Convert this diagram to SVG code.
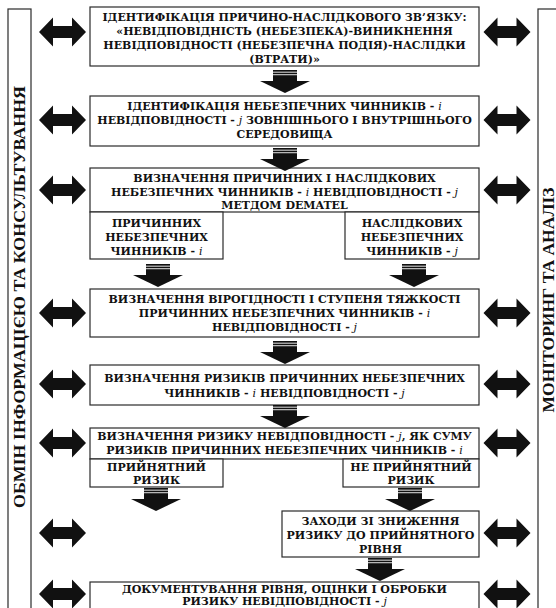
<svg xmlns="http://www.w3.org/2000/svg" width="556" height="608" viewBox="0 0 556 608">
<style>
.bx{fill:#fff;stroke:#2a2a2a;stroke-width:1.2}
.t{font-family:"DejaVu Serif","Liberation Serif",serif;font-weight:bold;font-size:11px;fill:#111;text-anchor:middle}
.side{font-family:"Liberation Serif","DejaVu Serif",serif;font-weight:bold;font-size:16px;fill:#111;text-anchor:middle}
.v{font-style:italic;font-weight:normal}
.ar{fill:#111}
</style>
<defs>
<path id="dbl" d="M-23.5,0 L-9.5,-14.5 L-9.5,-6 L9.5,-6 L9.5,-14.5 L23.5,0 L9.5,14.5 L9.5,6 L-9.5,6 L-9.5,14.5 Z"/>
<g id="down">
<rect x="-12" y="0" width="24" height="1.7"/>
<rect x="-12" y="2.6" width="24" height="1.7"/>
<rect x="-12" y="5.2" width="24" height="6.3"/>
<path d="M-25,11 L25,11 L0,23 Z"/>
</g>
</defs>
<rect width="556" height="608" fill="#fff"/>

<g id="side-left">
<rect class="bx" x="8" y="9" width="23" height="610"/>
<text class="side" transform="translate(25,297) rotate(-90)" textLength="422" lengthAdjust="spacingAndGlyphs">ОБМІН ІНФОРМАЦІЄЮ ТА КОНСУЛЬТУВАННЯ</text>
</g>
<g id="side-right">
<rect class="bx" x="538" y="9" width="30" height="610"/>
<text class="side" transform="translate(554,300) rotate(-90)" textLength="225" lengthAdjust="spacingAndGlyphs">МОНІТОРИНГ ТА АНАЛІЗ</text>
</g>

<g id="n1">
<rect class="bx" x="90" y="7" width="389" height="59"/>
<text class="t" x="284.5" y="21">ІДЕНТИФІКАЦІЯ ПРИЧИНО-НАСЛІДКОВОГО ЗВ’ЯЗКУ:</text>
<text class="t" x="284.5" y="35">«НЕВІДПОВІДНІСТЬ (НЕБЕЗПЕКА)-ВИНИКНЕННЯ</text>
<text class="t" x="284.5" y="49">НЕВІДПОВІДНОСТІ (НЕБЕЗПЕЧНА ПОДІЯ)-НАСЛІДКИ</text>
<text class="t" x="284.5" y="63">(ВТРАТИ)»</text>
</g>
<g id="n2">
<rect class="bx" x="90" y="96" width="389" height="50"/>
<text class="t" x="284.5" y="110">ІДЕНТИФІКАЦІЯ НЕБЕЗПЕЧНИХ ЧИННИКІВ - <tspan class="v">i</tspan></text>
<text class="t" x="284.5" y="124">НЕВІДПОВІДНОСТІ - <tspan class="v">j</tspan> ЗОВНІШНЬОГО І ВНУТРІШНЬОГО</text>
<text class="t" x="284.5" y="138">СЕРЕДОВИЩА</text>
</g>
<g id="n3">
<rect class="bx" x="90" y="168" width="389" height="44"/>
<text class="t" x="284.5" y="182">ВИЗНАЧЕННЯ ПРИЧИННИХ І НАСЛІДКОВИХ</text>
<text class="t" x="284.5" y="196">НЕБЕЗПЕЧНИХ ЧИННИКІВ - <tspan class="v">i</tspan> НЕВІДПОВІДНОСТІ - <tspan class="v">j</tspan></text>
<text class="t" x="284.5" y="209">МЕТДОМ DEMATEL</text>
</g>
<g id="n3a">
<rect class="bx" x="90" y="212" width="133" height="47"/>
<text class="t" x="156.5" y="227">ПРИЧИННИХ</text>
<text class="t" x="156.5" y="241">НЕБЕЗПЕЧНИХ</text>
<text class="t" x="156.5" y="255">ЧИННИКІВ - <tspan class="v">i</tspan></text>
</g>
<g id="n3b">
<rect class="bx" x="345" y="212" width="134" height="47"/>
<text class="t" x="412" y="227">НАСЛІДКОВИХ</text>
<text class="t" x="412" y="241">НЕБЕЗПЕЧНИХ</text>
<text class="t" x="412" y="255">ЧИННИКІВ - <tspan class="v">j</tspan></text>
</g>
<g id="n4">
<rect class="bx" x="90" y="289" width="389" height="48"/>
<text class="t" x="284.5" y="303">ВИЗНАЧЕННЯ ВІРОГІДНОСТІ І СТУПЕНЯ ТЯЖКОСТІ</text>
<text class="t" x="284.5" y="317">ПРИЧИННИХ НЕБЕЗПЕЧНИХ ЧИННИКІВ - <tspan class="v">i</tspan></text>
<text class="t" x="284.5" y="331">НЕВІДПОВІДНОСТІ - <tspan class="v">j</tspan></text>
</g>
<g id="n5">
<rect class="bx" x="90" y="365" width="389" height="40"/>
<text class="t" x="284.5" y="382">ВИЗНАЧЕННЯ РИЗИКІВ ПРИЧИННИХ НЕБЕЗПЕЧНИХ</text>
<text class="t" x="284.5" y="397">ЧИННИКІВ - <tspan class="v">i</tspan> НЕВІДПОВІДНОСТІ - <tspan class="v">j</tspan></text>
</g>
<g id="n6">
<rect class="bx" x="90" y="428" width="389" height="31"/>
<text class="t" x="284.5" y="440">ВИЗНАЧЕННЯ РИЗИКУ НЕВІДПОВІДНОСТІ - <tspan class="v">j</tspan>, ЯК СУМУ</text>
<text class="t" x="284.5" y="454">РИЗИКІВ ПРИЧИННИХ НЕБЕЗПЕЧНИХ ЧИННИКІВ - <tspan class="v">i</tspan></text>
</g>
<g id="n6a">
<rect class="bx" x="90" y="459" width="133" height="28"/>
<text class="t" x="156.5" y="471">ПРИЙНЯТНИЙ</text>
<text class="t" x="156.5" y="484">РИЗИК</text>
</g>
<g id="n6b">
<rect class="bx" x="343" y="459" width="136" height="28"/>
<text class="t" x="411" y="471">НЕ ПРИЙНЯТНИЙ</text>
<text class="t" x="411" y="484">РИЗИК</text>
</g>
<g id="n7">
<rect class="bx" x="282" y="511" width="197" height="46"/>
<text class="t" x="380.5" y="525">ЗАХОДИ ЗІ ЗНИЖЕННЯ</text>
<text class="t" x="380.5" y="539">РИЗИКУ ДО ПРИЙНЯТНОГО</text>
<text class="t" x="380.5" y="553">РІВНЯ</text>
</g>
<g id="n8">
<rect class="bx" x="90" y="582" width="389" height="32"/>
<text class="t" x="284.5" y="593">ДОКУМЕНТУВАННЯ РІВНЯ, ОЦІНКИ І ОБРОБКИ</text>
<text class="t" x="284.5" y="604.5">РИЗИКУ НЕВІДПОВІДНОСТІ - <tspan class="v">j</tspan></text>
</g>

<g id="connectors" class="ar">
<use href="#down" transform="translate(285,70)"/>
<use href="#down" transform="translate(285,148)"/>
<use href="#down" transform="translate(158,264)"/>
<use href="#down" transform="translate(414,264)"/>
<use href="#down" transform="translate(285,341)"/>
<use href="#down" transform="translate(285,405)"/>
<use href="#down" transform="translate(156,488)"/>
<use href="#down" transform="translate(410,488)"/>
<use href="#down" transform="translate(380,558)"/>
<use href="#dbl" transform="translate(62.5,32)"/>
<use href="#dbl" transform="translate(62.5,120)"/>
<use href="#dbl" transform="translate(62.5,190)"/>
<use href="#dbl" transform="translate(62.5,313)"/>
<use href="#dbl" transform="translate(62.5,384)"/>
<use href="#dbl" transform="translate(62.5,443)"/>
<use href="#dbl" transform="translate(62.5,533)"/>
<use href="#dbl" transform="translate(62.5,594)"/>
<use href="#dbl" transform="translate(507,32)"/>
<use href="#dbl" transform="translate(507,120)"/>
<use href="#dbl" transform="translate(507,190)"/>
<use href="#dbl" transform="translate(507,313)"/>
<use href="#dbl" transform="translate(507,384)"/>
<use href="#dbl" transform="translate(507,443)"/>
<use href="#dbl" transform="translate(507,533)"/>
<use href="#dbl" transform="translate(507,594)"/>
</g>
</svg>
